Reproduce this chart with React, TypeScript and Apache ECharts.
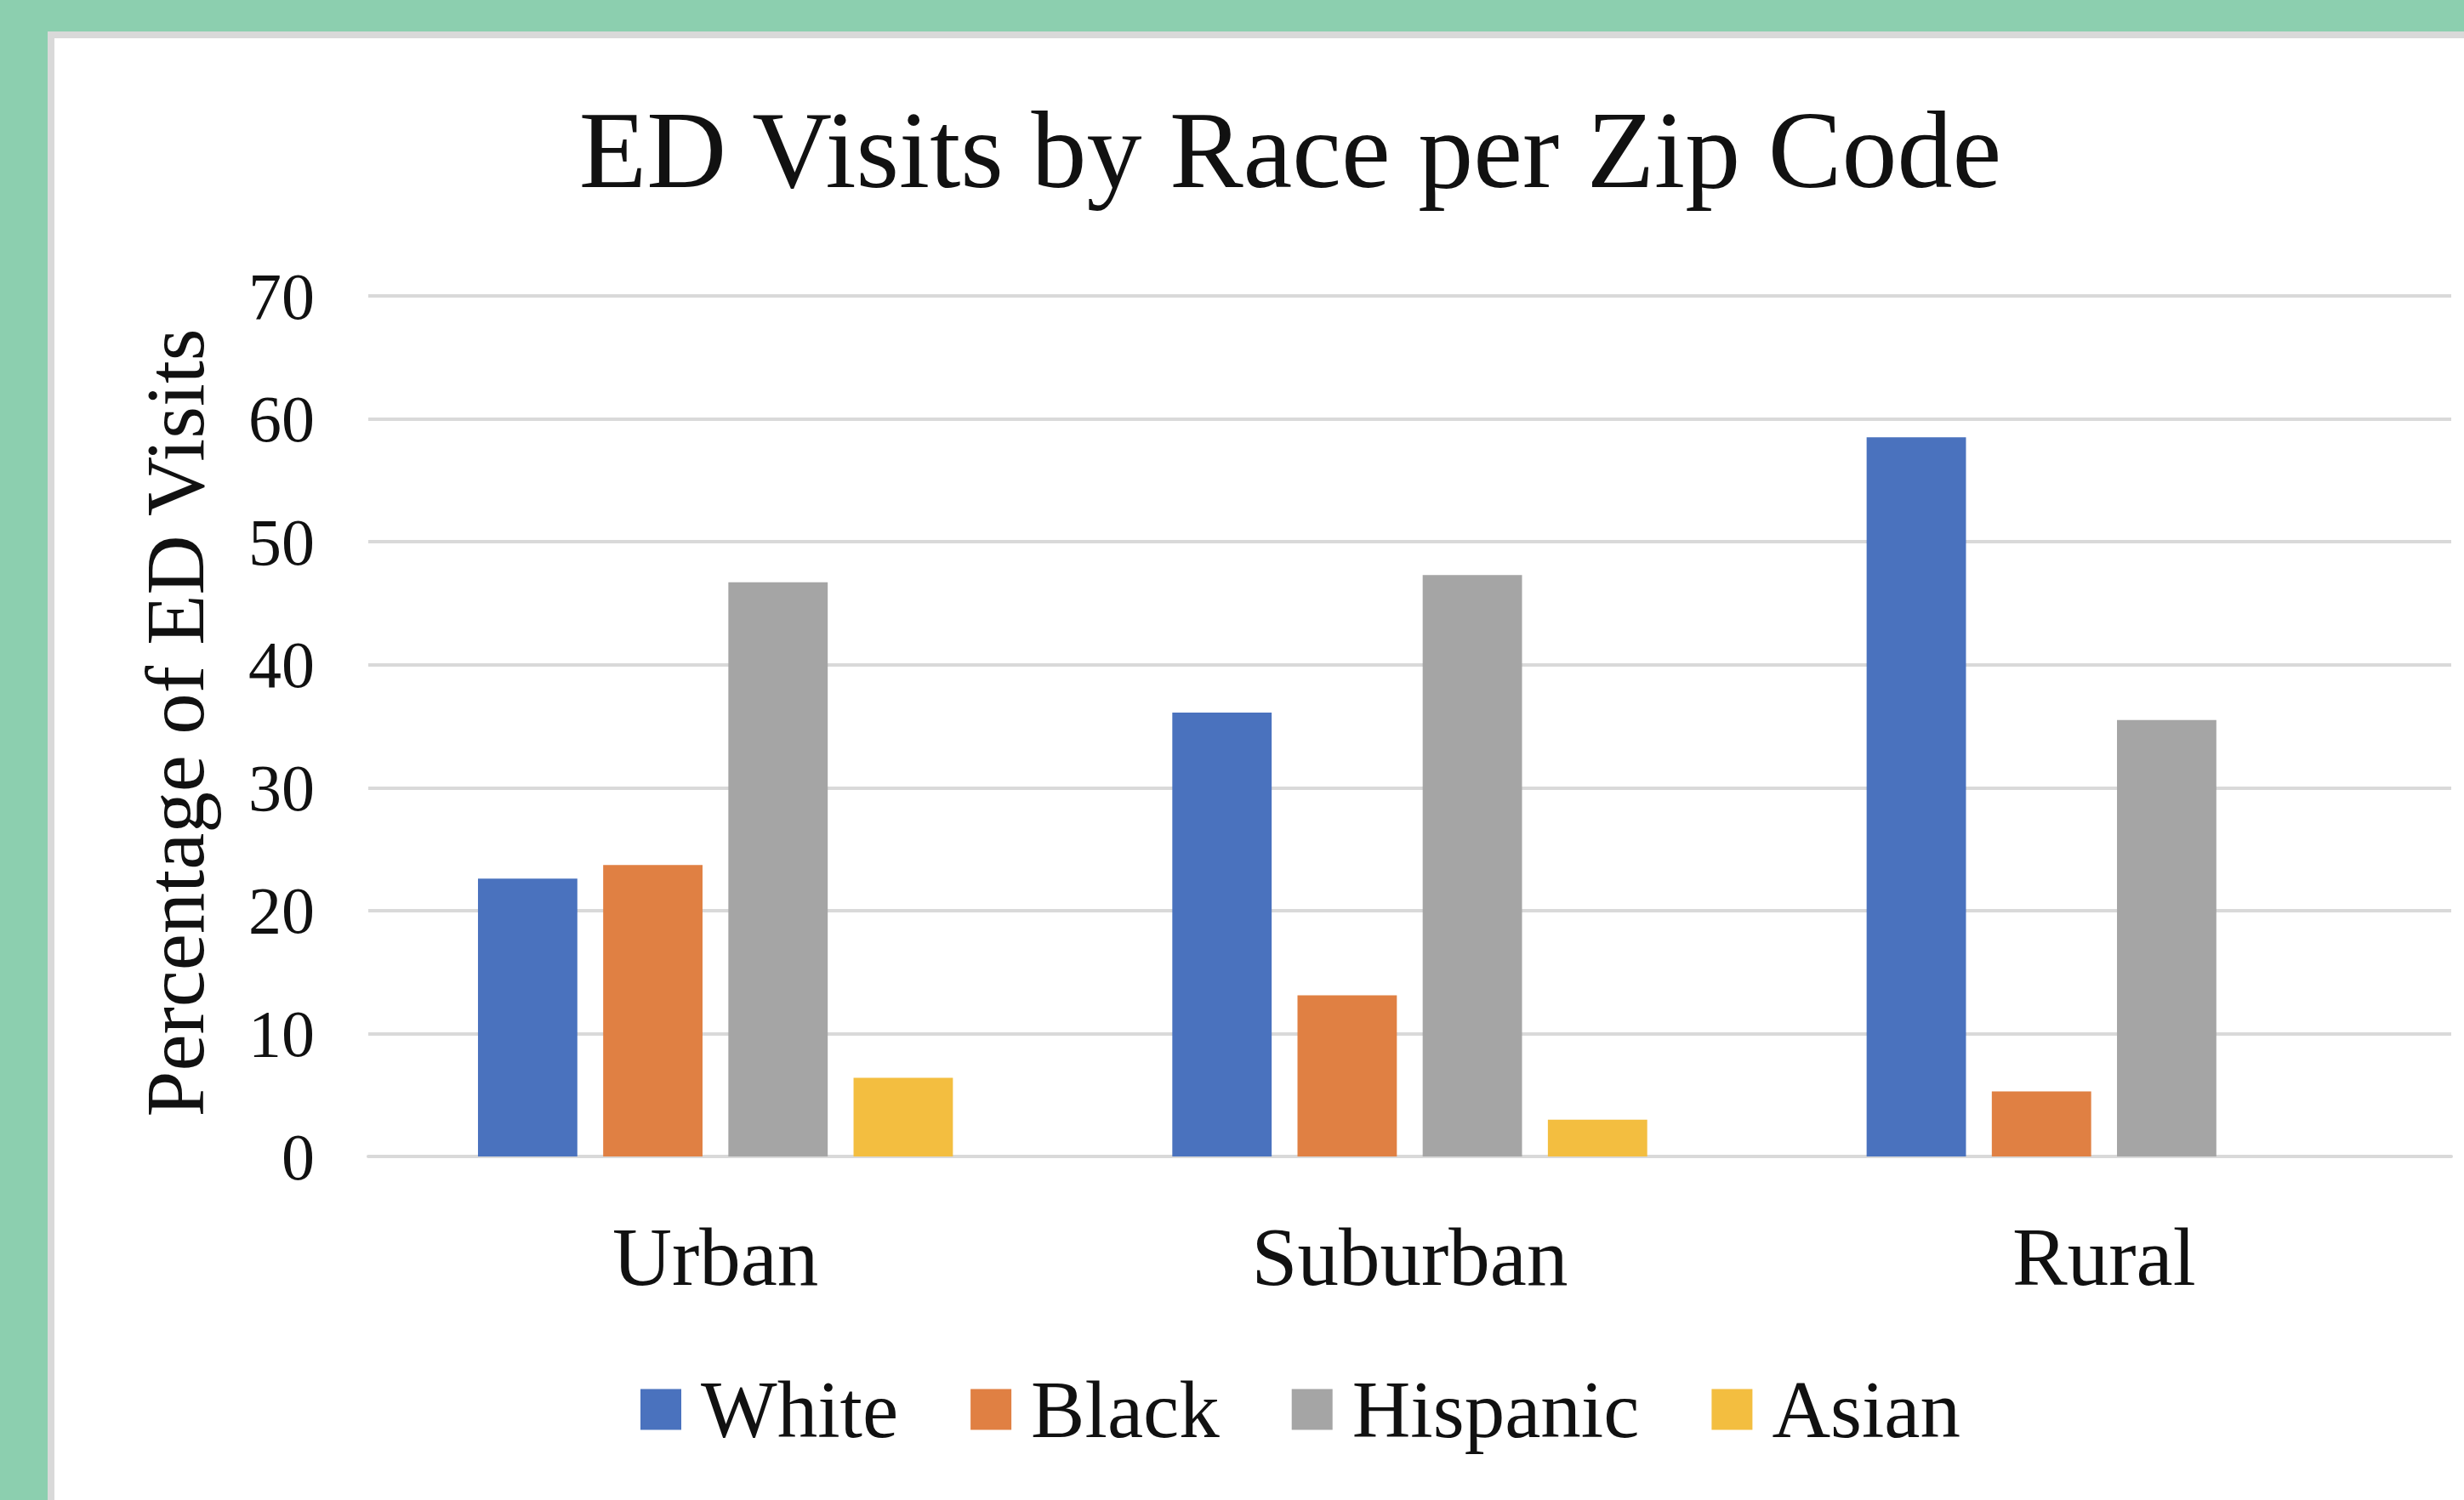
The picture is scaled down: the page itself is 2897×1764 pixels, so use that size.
import React, { useEffect, useRef } from "react";
import * as echarts from "echarts";

const categories = ["Urban", "Suburban", "Rural"];
const seriesNames = ["White", "Black", "Hispanic", "Asian"];
const whiteValues = [22.6, 36.1, 58.5];
const blackValues = [23.7, 13.1, 5.3];
const hispanicValues = [46.7, 47.3, 35.5];
const asianValues = [6.4, 3.0, 0];
const seriesColors = ["#4A72BE", "#E08043", "#A5A5A5", "#F3BE40"];
const yTicks = { min: 0, max: 70, interval: 10 };

const FONT = "'Liberation Serif', 'Times New Roman', serif";

export default function App() {
  const ref = useRef<HTMLDivElement>(null);

  useEffect(() => {
    if (!ref.current) return;
    const chart = echarts.init(ref.current, undefined, { renderer: "svg" });
    const values = [whiteValues, blackValues, hispanicValues, asianValues];
    chart.setOption({
      animation: false,
      backgroundColor: "transparent",
      textStyle: { fontFamily: FONT, color: "#111" },
      title: {
        text: "ED Visits by Race per Zip Code",
        left: 1512,
        textAlign: "center",
        top: 106,
        textStyle: { fontFamily: FONT, fontSize: 130, fontWeight: "normal", color: "#111" },
      },
      legend: {
        data: seriesNames,
        left: 748,
        top: 1605,
        itemWidth: 48,
        itemHeight: 48,
        itemGap: 85,
        icon: "rect",
        textStyle: { fontFamily: FONT, fontSize: 95, color: "#111", padding: [0, 0, 0, 18] },
      },
      grid: { left: 433, right: 15, top: 348, bottom: 404, containLabel: false },
      xAxis: {
        type: "category",
        data: categories,
        axisLine: { show: true, lineStyle: { color: "#D9D9D9", width: 4 } },
        axisTick: { show: false },
        axisLabel: { fontFamily: FONT, fontSize: 97, color: "#111", margin: 70 },
      },
      yAxis: {
        type: "value",
        min: yTicks.min,
        max: yTicks.max,
        interval: yTicks.interval,
        name: "Percentage of ED Visits",
        nameLocation: "middle",
        nameGap: 178,
        nameTextStyle: { fontFamily: FONT, fontSize: 97, color: "#111", padding: [0, 0, 0, 8] },
        axisLine: { show: false },
        axisTick: { show: false },
        axisLabel: { fontFamily: FONT, fontSize: 78, color: "#111", margin: 63 },
        splitLine: { lineStyle: { color: "#D9D9D9", width: 4 } },
      },
      series: seriesNames.map((name, i) => ({
        name,
        type: "bar",
        data: values[i],
        barGap: "26%",
        barCategoryGap: "31.6%",
        itemStyle: { color: seriesColors[i] },
      })),
    });
    return () => chart.dispose();
  }, []);

  return (
    <div style={{ position: "fixed", left: 0, top: 0, width: 2897, height: 1764, background: "#8CCFAF", overflow: "hidden" }}>
      <div style={{ position: "absolute", left: 56, top: 37, width: 2900, height: 1800, background: "#D9D9D9" }} />
      <div style={{ position: "absolute", left: 64, top: 45, width: 2900, height: 1800, background: "#FFFFFF" }} />
      <div ref={ref} style={{ position: "absolute", left: 0, top: 0, width: 2897, height: 1764 }} />
    </div>
  );
}
